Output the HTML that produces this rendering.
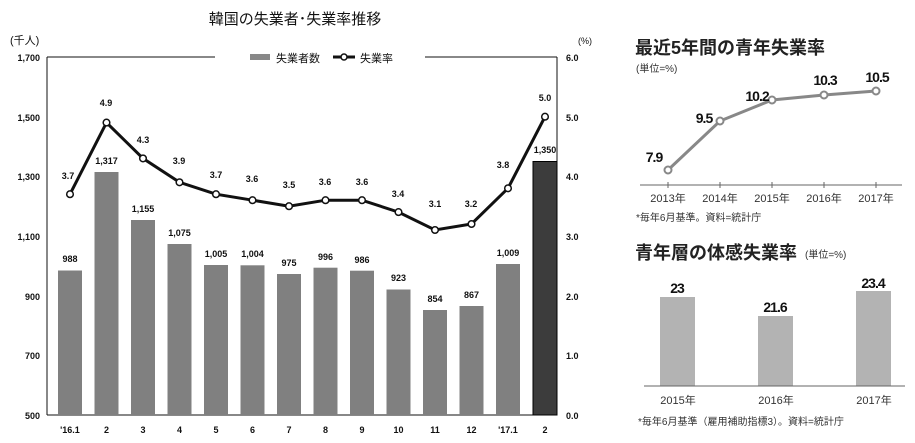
<!DOCTYPE html><html><head><meta charset="utf-8"><style>body{margin:0;background:#fff}svg{display:block}</style></head><body>
<svg width="915" height="443" xmlns="http://www.w3.org/2000/svg" font-family="Liberation Sans, Noto Sans CJK JP, sans-serif">
<text x="295" y="24" font-size="15" text-anchor="middle" fill="#111">韓国の失業者･失業率推移</text>
<text x="10" y="44" font-size="11" fill="#111">(千人)</text>
<text x="578" y="44" font-size="9" fill="#111">(%)</text>
<g font-size="9" font-weight="bold" fill="#111" text-anchor="end">
<text x="40" y="61">1,700</text><text x="40" y="121">1,500</text><text x="40" y="180">1,300</text><text x="40" y="240">1,100</text><text x="40" y="300">900</text><text x="40" y="359">700</text><text x="40" y="419">500</text>
</g>
<g font-size="9" font-weight="bold" fill="#111">
<text x="566" y="61">6.0</text><text x="566" y="121">5.0</text><text x="566" y="180">4.0</text><text x="566" y="240">3.0</text><text x="566" y="300">2.0</text><text x="566" y="359">1.0</text><text x="566" y="419">0.0</text>
</g>
<g stroke="#111" stroke-width="1">
<line x1="47" y1="57" x2="215" y2="57"/><line x1="425" y1="57" x2="557" y2="57"/>
<line x1="47" y1="57" x2="47" y2="415"/><line x1="557" y1="57" x2="557" y2="415"/>
<line x1="47" y1="415" x2="557" y2="415"/>
</g>
<rect x="250" y="54" width="20" height="6" fill="#888"/>
<text x="276" y="62" font-size="11" fill="#111">失業者数</text>
<line x1="333" y1="57" x2="355" y2="57" stroke="#111" stroke-width="3"/><circle cx="344" cy="57" r="3" fill="#fff" stroke="#111" stroke-width="1.5"/>
<text x="360" y="62" font-size="11" fill="#111">失業率</text>
<g id="bars"></g>
<g fill="#808080">
<rect x="58" y="270.5" width="24" height="144.5"/>
<rect x="94.5" y="172" width="24" height="243"/>
<rect x="131" y="220" width="24" height="195"/>
<rect x="167.5" y="244" width="24" height="171"/>
<rect x="204" y="265" width="24" height="150"/>
<rect x="240.5" y="265.3" width="24" height="149.7"/>
<rect x="277" y="274" width="24" height="141"/>
<rect x="313.5" y="267.7" width="24" height="147.3"/>
<rect x="350" y="270.7" width="24" height="144.3"/>
<rect x="386.5" y="289.5" width="24" height="125.5"/>
<rect x="423" y="310" width="24" height="105"/>
<rect x="459.5" y="306" width="24" height="109"/>
<rect x="496" y="264" width="24" height="151"/>
</g>
<rect x="533" y="161.5" width="24" height="253.5" fill="#3c3c3c" stroke="#000"/>
<g font-size="9" font-weight="bold" fill="#111" text-anchor="middle">
<text x="70" y="262">988</text><text x="106.5" y="164">1,317</text><text x="143" y="212">1,155</text><text x="179.5" y="236">1,075</text><text x="216" y="257">1,005</text><text x="252.5" y="257">1,004</text><text x="289" y="266">975</text><text x="325.5" y="260">996</text><text x="362" y="263">986</text><text x="398.5" y="281">923</text><text x="435" y="302">854</text><text x="471.5" y="298">867</text><text x="508" y="256">1,009</text><text x="545" y="153">1,350</text>
</g>
<polyline fill="none" stroke="#111" stroke-width="3" points="70,194.2 106.5,122.6 143,158.4 179.5,182.3 216,194.2 252.5,200.2 289,206.2 325.5,200.2 362,200.2 398.5,212.1 435,230 471.5,224 508,188.3 545,116.7"/>
<g fill="#fff" stroke="#111" stroke-width="1.5">
<circle cx="70" cy="194.2" r="3.3"/><circle cx="106.5" cy="122.6" r="3.3"/><circle cx="143" cy="158.4" r="3.3"/><circle cx="179.5" cy="182.3" r="3.3"/><circle cx="216" cy="194.2" r="3.3"/><circle cx="252.5" cy="200.2" r="3.3"/><circle cx="289" cy="206.2" r="3.3"/><circle cx="325.5" cy="200.2" r="3.3"/><circle cx="362" cy="200.2" r="3.3"/><circle cx="398.5" cy="212.1" r="3.3"/><circle cx="435" cy="230" r="3.3"/><circle cx="471.5" cy="224" r="3.3"/><circle cx="508" cy="188.3" r="3.3"/><circle cx="545" cy="116.7" r="3.3"/>
</g>
<g font-size="9" font-weight="bold" fill="#111" text-anchor="middle">
<text x="68" y="179">3.7</text><text x="106" y="106">4.9</text><text x="143" y="143">4.3</text><text x="179" y="164">3.9</text><text x="216" y="178">3.7</text><text x="252" y="182">3.6</text><text x="289" y="188">3.5</text><text x="325" y="185">3.6</text><text x="362" y="185">3.6</text><text x="398" y="197">3.4</text><text x="435" y="207">3.1</text><text x="471" y="207">3.2</text><text x="503" y="168">3.8</text><text x="545" y="101">5.0</text>
</g>
<g font-size="9" font-weight="bold" fill="#111" text-anchor="middle">
<text x="70" y="433">'16.1</text><text x="106.5" y="433">2</text><text x="143" y="433">3</text><text x="179.5" y="433">4</text><text x="216" y="433">5</text><text x="252.5" y="433">6</text><text x="289" y="433">7</text><text x="325.5" y="433">8</text><text x="362" y="433">9</text><text x="398.5" y="433">10</text><text x="435" y="433">11</text><text x="471.5" y="433">12</text><text x="508" y="433">'17.1</text><text x="545" y="433">2</text>
</g>

<text x="635" y="54" font-size="18" font-weight="bold" fill="#222">最近5年間の青年失業率</text>
<text x="636" y="72" font-size="10" fill="#333">(単位=%)</text>
<line x1="640" y1="185" x2="902" y2="185" stroke="#666"/>
<g stroke="#666"><line x1="668" y1="182" x2="668" y2="188"/><line x1="720" y1="182" x2="720" y2="188"/><line x1="772" y1="182" x2="772" y2="188"/><line x1="824" y1="182" x2="824" y2="188"/><line x1="876" y1="182" x2="876" y2="188"/></g>
<polyline fill="none" stroke="#888" stroke-width="3" points="668,170 720,121 772,100 824,95 876,91"/>
<g fill="#fff" stroke="#888" stroke-width="2"><circle cx="668" cy="170" r="3.5"/><circle cx="720" cy="121" r="3.5"/><circle cx="772" cy="100" r="3.5"/><circle cx="824" cy="95" r="3.5"/><circle cx="876" cy="91" r="3.5"/></g>
<g font-size="14" font-weight="bold" fill="#111" text-anchor="middle" letter-spacing="-1">
<text x="654" y="162">7.9</text><text x="704" y="123">9.5</text><text x="757" y="101">10.2</text><text x="825" y="85">10.3</text><text x="877" y="82">10.5</text>
</g>
<g font-size="11" fill="#333" text-anchor="middle"><text x="668" y="202">2013年</text><text x="720" y="202">2014年</text><text x="772" y="202">2015年</text><text x="824" y="202">2016年</text><text x="876" y="202">2017年</text></g>
<text x="636" y="221" font-size="10" fill="#333">*毎年6月基準。資料=統計庁</text>

<text x="635" y="259" font-size="18" font-weight="bold" fill="#222">青年層の体感失業率</text>
<text x="805" y="258" font-size="10" fill="#333">(単位=%)</text>
<g fill="#b3b3b3"><rect x="660" y="297" width="35" height="89"/><rect x="758" y="316" width="35" height="70"/><rect x="856" y="291" width="35" height="95"/></g>
<line x1="644" y1="386" x2="905" y2="386" stroke="#666"/>
<g font-size="14" font-weight="bold" fill="#111" text-anchor="middle" letter-spacing="-1"><text x="677" y="293">23</text><text x="775" y="312">21.6</text><text x="873" y="288">23.4</text></g>
<g font-size="11" fill="#333" text-anchor="middle"><text x="678" y="404">2015年</text><text x="776" y="404">2016年</text><text x="874" y="404">2017年</text></g>
<text x="638" y="425" font-size="10" fill="#333">*毎年6月基準（雇用補助指標3）。資料=統計庁</text>
</svg>
</body></html>
